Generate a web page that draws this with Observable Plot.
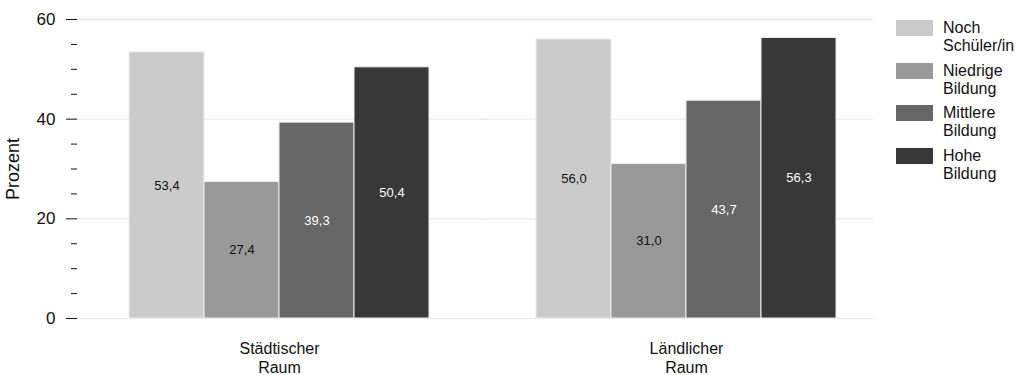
<!DOCTYPE html>
<html>
<head>
<meta charset="utf-8">
<script src="https://cdn.jsdelivr.net/npm/d3@7"></script>
<script src="https://cdn.jsdelivr.net/npm/@observablehq/plot@0.6"></script>
<style>
  html, body { margin: 0; padding: 0; background: #fff; }
  #wrap { position: relative; width: 1025px; height: 375px; font-family: "Liberation Sans", Arial, sans-serif; }
  #legend { position: absolute; left: 896px; top: 20px; }
  .item { position: relative; height: 42.5px; }
  .sw { position: absolute; left: 0; top: 0; width: 37px; height: 16px; }
  .lab { position: absolute; left: 47px; top: -1px; font-size: 16px; line-height: 18px; color: #111; }
</style>
</head>
<body>
<div id="wrap"><div id="legend"></div></div>
<script>
const groups = ["Städtischer Raum", "Ländlicher Raum"];
const categories = ["Noch Schüler/in", "Niedrige Bildung", "Mittlere Bildung", "Hohe Bildung"];
const urbanValues = [53.4, 27.4, 39.3, 50.4];
const ruralValues = [56.0, 31.0, 43.7, 56.3];
const colors = ["#cbcbcb", "#999999", "#666666", "#383838"];
const darkLabelCategories = ["Noch Schüler/in", "Niedrige Bildung"];
const majorTicks = [0, 20, 40, 60];
const minorTicks = [5, 10, 15, 25, 30, 35, 45, 50, 55];
const legendLines = [["Noch", "Schüler/in"], ["Niedrige", "Bildung"], ["Mittlere", "Bildung"], ["Hohe", "Bildung"]];

const data = [];
categories.forEach((c, i) => data.push({group: groups[0], category: c, value: urbanValues[i]}));
categories.forEach((c, i) => data.push({group: groups[1], category: c, value: ruralValues[i]}));

const gridA = majorTicks.map(v => ({group: groups[0], v}));
const gridB = majorTicks.map(v => ({group: groups[1], v}));

const fmt = v => d3.format(".1f")(v).replace(".", ",");

const chart = Plot.plot({
  width: 1025,
  height: 375,
  marginLeft: 77,
  marginRight: 137,
  marginTop: 19,
  marginBottom: 57,
  style: {fontFamily: "'Liberation Sans', Arial, sans-serif", fontSize: "16px", color: "#111"},
  fx: {domain: groups, paddingInner: 0.0074, paddingOuter: 0, label: null},
  x: {domain: categories, paddingInner: 0, paddingOuter: 0.658, axis: null},
  y: {domain: [0, 60], label: null},
  color: {domain: categories, range: colors},
  marks: [
    Plot.ruleY(gridA, {fx: "group", y: "v", stroke: "#e6e6e6", strokeWidth: 1, insetLeft: 0, insetRight: -3}),
    Plot.ruleY(gridB, {fx: "group", y: "v", stroke: "#e6e6e6", strokeWidth: 1, insetLeft: -1, insetRight: 15}),
    Plot.barY(data, {fx: "group", x: "category", y: "value", fill: "category", stroke: "#eeeeee", strokeWidth: 1}),
    Plot.text(data, {filter: d => darkLabelCategories.includes(d.category), fx: "group", x: "category", y: d => d.value / 2, text: d => fmt(d.value), fill: "#111", fontSize: 13}),
    Plot.text(data, {filter: d => !darkLabelCategories.includes(d.category), fx: "group", x: "category", y: d => d.value / 2, text: d => fmt(d.value), fill: "#fff", fontSize: 13}),
    Plot.axisY(majorTicks, {tickSize: 11, tickPadding: 11, fontSize: 17, label: null}),
    Plot.axisY([], {tickSize: 0, fontSize: 18, label: "Prozent", labelAnchor: "center", labelArrow: "none", labelOffset: 71}),
    Plot.axisY(minorTicks, {tickSize: 6, tickFormat: () => "", label: null}),
    Plot.axisFx({anchor: "bottom", tickSize: 0, tickPadding: 22, fontSize: 16, lineHeight: 1.2, tickFormat: d => d.replace(" ", "\n"), label: null})
  ]
});
document.getElementById("wrap").prepend(chart);

const legend = document.getElementById("legend");
categories.forEach((c, i) => {
  const item = document.createElement("div");
  item.className = "item";
  const sw = document.createElement("div");
  sw.className = "sw";
  sw.style.background = colors[i];
  const lab = document.createElement("div");
  lab.className = "lab";
  lab.innerHTML = legendLines[i].join("<br>");
  item.appendChild(sw);
  item.appendChild(lab);
  legend.appendChild(item);
});
</script>
</body>
</html>
